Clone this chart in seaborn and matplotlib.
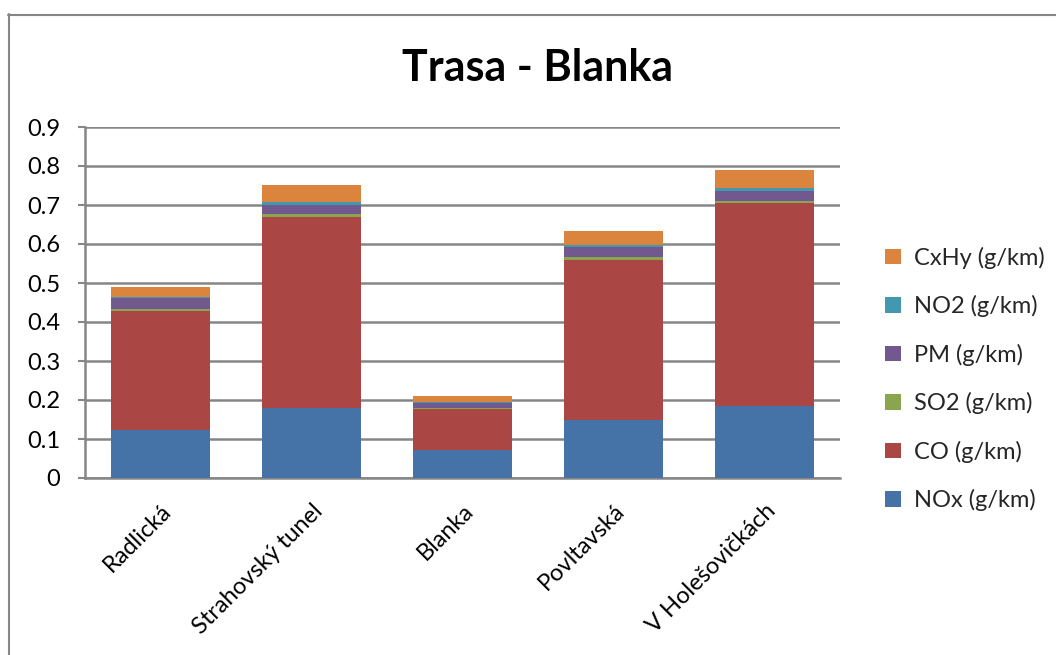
import matplotlib
matplotlib.use("Agg")
import matplotlib.pyplot as plt
import seaborn as sns
import numpy as np
import pandas as pd
from matplotlib.patches import Patch
from matplotlib.lines import Line2D

categories = ["Radlická", "Strahovský tunel", "Blanka", "Povltavská", "V Holešovičkách"]
nox = [0.122, 0.179, 0.071, 0.149, 0.185]
co = [0.306, 0.491, 0.106, 0.411, 0.519]
so2 = [0.005, 0.007, 0.002, 0.006, 0.007]
pm = [0.028, 0.024, 0.014, 0.027, 0.026]
no2 = [0.002, 0.007, 0.003, 0.004, 0.006]
cxhy = [0.027, 0.042, 0.013, 0.036, 0.047]

series_names = ["NOx (g/km)", "CO (g/km)", "SO2 (g/km)", "PM (g/km)", "NO2 (g/km)", "CxHy (g/km)"]
series_values = [nox, co, so2, pm, no2, cxhy]
colors = ["#4572A7", "#AA4643", "#89A54E", "#71588F", "#4198AF", "#DB843D"]
yticks = [0, 0.1, 0.2, 0.3, 0.4, 0.5, 0.6, 0.7, 0.8, 0.9]
ytick_labels = ["0", "0.1", "0.2", "0.3", "0.4", "0.5", "0.6", "0.7", "0.8", "0.9"]

sns.set_theme(style="white")
plt.rcParams["font.family"] = ["Lato", "DejaVu Sans"]

fig = plt.figure(figsize=(10.56, 6.55), dpi=100)
ax = fig.add_axes([85/1056, 1-478/655, (840-85)/1056, (478-127)/655])

grid_c = "#868686"
bottom = np.zeros(len(categories))
for name, vals, col in zip(series_names, series_values, colors):
    df = pd.DataFrame({"cat": categories, "val": vals})
    sns.barplot(data=df, x="cat", y="val", order=categories, color=col,
                bottom=bottom, width=0.65, ax=ax, saturation=1, errorbar=None,
                edgecolor="none", linewidth=0, zorder=3)
    bottom = bottom + np.array(vals)

ax.set_ylim(0, 0.9)
ax.set_xlim(-0.5, len(categories) - 0.5)
ax.set_yticks(yticks)
ax.set_yticklabels(ytick_labels)
ax.yaxis.grid(True, color=grid_c, linewidth=1.8, zorder=0)
ax.set_axisbelow(True)
ax.set_xlabel("")
ax.set_ylabel("")
for s in ["top", "right"]:
    ax.spines[s].set_visible(False)
for s in ["left", "bottom"]:
    ax.spines[s].set_color(grid_c)
    ax.spines[s].set_linewidth(1.8)
ax.tick_params(axis="y", which="major", left=True, length=5, width=1.5, color=grid_c,
               labelsize=17, pad=13)
ax.tick_params(axis="x", which="major", bottom=False, labelsize=17, pad=10)
plt.setp(ax.get_xticklabels(), rotation=45, ha="right", rotation_mode="anchor")
for lbl in ax.get_yticklabels() + ax.get_xticklabels():
    lbl.set_color("black")

fig.text(538/1056, 1-68/655, "Trasa - Blanka", ha="center", va="center",
         fontsize=31, fontweight="bold", color="black")

handles = [Patch(facecolor=c, edgecolor="none") for c in colors][::-1]
labels = series_names[::-1]
leg = fig.legend(handles, labels, loc="center left", bbox_to_anchor=(864/1056, 1-379/655),
                 frameon=False, fontsize=17, handlelength=0.65, handleheight=0.65,
                 handletextpad=0.55, labelspacing=1.12)

fig.add_artist(Line2D([8.5/1056, 8.5/1056], [0, 1-14/655], transform=fig.transFigure,
                      color=grid_c, linewidth=1.5))
fig.add_artist(Line2D([8/1056, 1], [1-14.5/655, 1-14.5/655], transform=fig.transFigure,
                      color=grid_c, linewidth=1.5))

fig.savefig("out.png", dpi=100)
